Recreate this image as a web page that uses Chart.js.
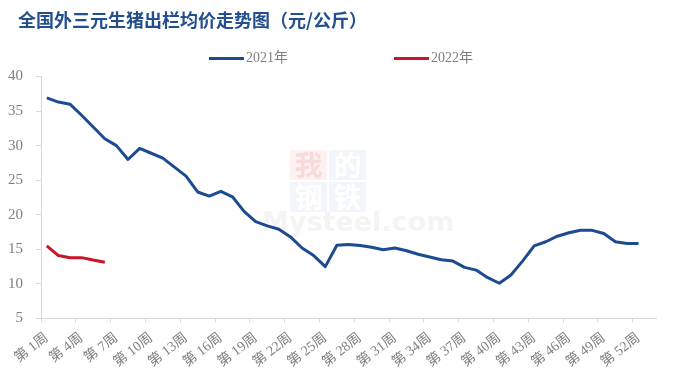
<!DOCTYPE html>
<html>
<head>
<meta charset="utf-8">
<script src="https://cdn.jsdelivr.net/npm/chart.js@4"></script>
<style>
    html, body { margin: 0; padding: 0; background: #fff; }
    #wrap { width: 678px; height: 376px; position: relative; }
</style>
</head>
<body>
<div id="wrap"><canvas id="chart"></canvas></div>
<script>
const weekLabels = [
    '第 1周', '第 2周', '第 3周', '第 4周', '第 5周', '第 6周', '第 7周', '第 8周', '第 9周', '第 10周',
    '第 11周', '第 12周', '第 13周', '第 14周', '第 15周', '第 16周', '第 17周', '第 18周', '第 19周', '第 20周',
    '第 21周', '第 22周', '第 23周', '第 24周', '第 25周', '第 26周', '第 27周', '第 28周', '第 29周', '第 30周',
    '第 31周', '第 32周', '第 33周', '第 34周', '第 35周', '第 36周', '第 37周', '第 38周', '第 39周', '第 40周',
    '第 41周', '第 42周', '第 43周', '第 44周', '第 45周', '第 46周', '第 47周', '第 48周', '第 49周', '第 50周',
    '第 51周', '第 52周', '第 53周'
];

const price2021 = [
    36.9, 36.3, 36.0, 34.4, 32.7, 31.0, 30.0, 28.0, 29.6, 28.9,
    28.2, 26.9, 25.6, 23.3, 22.7, 23.4, 22.6, 20.5, 19.0, 18.4,
    17.9, 16.8, 15.2, 14.1, 12.5, 15.6, 15.7, 15.55, 15.3, 14.95,
    15.2, 14.8, 14.3, 13.9, 13.5, 13.3, 12.4, 12.0, 10.9, 10.1,
    11.3, 13.3, 15.5, 16.1, 16.9, 17.4, 17.75, 17.75, 17.3, 16.1,
    15.85, 15.85
];

const price2022 = [15.5, 14.1, 13.8, 13.8, 13.45, 13.15];

const seriesNames = ['2021年', '2022年'];
const seriesColors = ['#1d4b92', '#c8152a'];

const chartTitle = '全国外三元生猪出栏均价走势图（元/公斤）';

const axisColor = '#d9d9d9';
const labelColor = '#7f7f7f';
const serifFont = '"Liberation Serif", "Noto Sans CJK SC", serif';

function createDataset(label, color, data) {
    return {
        label: label,
        data: data,
        borderColor: color,
        backgroundColor: color,
        borderWidth: 3,
        pointRadius: 0,
        pointHoverRadius: 0,
        tension: 0,
        fill: false,
        borderJoinStyle: 'round',
        borderCapStyle: 'butt'
    };
}

// title, legend and the faint watermark are painted by hand
const decorations = {
    id: 'decorations',
    beforeDatasetsDraw(chart) {
        const ctx = chart.ctx;
        ctx.save();
        const boxes = [
            ['我', 290, 150, '#fdf1f1', '#f8dada'],
            ['的', 329, 150, '#f2f5fa', '#ffffff'],
            ['钢', 290, 182, '#f2f5fa', '#ffffff'],
            ['铁', 329, 182, '#f2f5fa', '#ffffff']
        ];
        ctx.textAlign = 'center';
        ctx.textBaseline = 'middle';
        ctx.font = 'bold 28px "Noto Sans CJK SC"';
        for (const [ch, x, y, bg, fg] of boxes) {
            ctx.fillStyle = bg;
            ctx.fillRect(x, y, 37, 30);
            ctx.fillStyle = fg;
            ctx.fillText(ch, x + 18.5, y + 15);
        }
        ctx.font = 'bold 27px "DejaVu Sans"';
        ctx.fillStyle = '#f4f4f4';
        ctx.textAlign = 'left';
        ctx.fillText('Mysteel.com', 262, 224);
        ctx.restore();
    },
    afterDraw(chart) {
        const ctx = chart.ctx;
        ctx.save();
        ctx.font = 'bold 18px "Noto Sans CJK SC"';
        ctx.fillStyle = '#234f8e';
        ctx.textAlign = 'left';
        ctx.textBaseline = 'middle';
        ctx.fillText(chartTitle, 18, 20);

        const legendX = [209, 394];
        ctx.font = '14px ' + serifFont;
        chart.data.datasets.forEach((ds, i) => {
            const x = legendX[i];
            ctx.strokeStyle = ds.borderColor;
            ctx.lineWidth = 3;
            ctx.beginPath();
            ctx.moveTo(x, 58.5);
            ctx.lineTo(x + 35, 58.5);
            ctx.stroke();
            ctx.fillStyle = labelColor;
            ctx.fillText(ds.label, x + 37, 58);
        });
        ctx.restore();
    }
};

new Chart(document.getElementById('chart'), {
    type: 'line',
    data: {
        labels: weekLabels,
        datasets: [
            createDataset(seriesNames[0], seriesColors[0], price2021),
            createDataset(seriesNames[1], seriesColors[1], price2022)
        ]
    },
    options: {
        responsive: true,
        maintainAspectRatio: false,
        animation: false,
        layout: {
            padding: { top: 76.5, right: 22, bottom: 0, left: 0 }
        },
        plugins: {
            legend: { display: false },
            title: { display: false },
            tooltip: { enabled: false }
        },
        scales: {
            x: {
                type: 'category',
                offset: true,
                afterFit(scale) { scale.height = 57.5; },
                border: { color: axisColor, width: 1 },
                grid: {
                    offset: true,
                    drawOnChartArea: false,
                    drawTicks: true,
                    tickLength: 4,
                    tickColor: (c) => (c.index % 3 === 0 ? axisColor : 'rgba(0,0,0,0)')
                },
                ticks: {
                    autoSkip: false,
                    minRotation: 38,
                    maxRotation: 38,
                    padding: 7,
                    color: labelColor,
                    font: { family: serifFont, size: 14 },
                    callback(value, index) {
                        return index % 3 === 0 ? weekLabels[index] : '';
                    }
                }
            },
            y: {
                min: 5,
                max: 40,
                afterFit(scale) { scale.width = 41; },
                border: { color: axisColor, width: 1 },
                grid: {
                    drawOnChartArea: false,
                    drawTicks: true,
                    tickLength: 5,
                    tickColor: axisColor
                },
                ticks: {
                    stepSize: 5,
                    padding: 13,
                    color: labelColor,
                    font: { family: serifFont, size: 15 }
                }
            }
        }
    },
    plugins: [decorations]
});
</script>
</body>
</html>
